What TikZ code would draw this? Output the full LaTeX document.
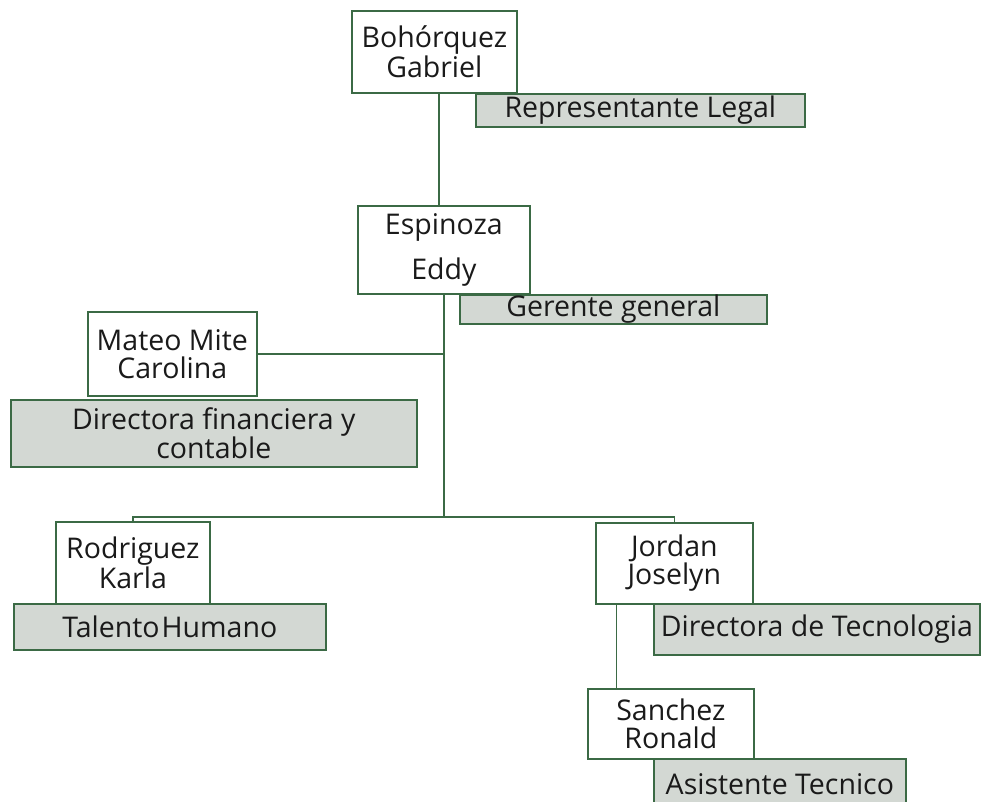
\documentclass[tikz,border=0pt]{standalone}
\usepackage{fontspec}
\setmainfont{Open Sans}
\definecolor{frame}{HTML}{3B6A45}
\definecolor{rolefill}{HTML}{D3D8D3}
\definecolor{ink}{HTML}{1A1A1A}
\begin{document}
\begin{tikzpicture}[x=1pt,y=-1pt,
  base/.style={draw=frame, line width=1.7pt, inner sep=0pt, anchor=north west,
    align=center, text=ink, font=\fontsize{28.5}{28}\selectfont},
  person/.style={base, fill=white},
  role/.style={base, fill=rolefill},
  link/.style={draw=frame, line width=1.7pt}]
\fill[white] (0,0) rectangle (981,801);
\useasboundingbox (0,0) rectangle (981,801);
\clip (0,0) rectangle (981,801);

% people
\node[person, minimum width=165, minimum height=82] (bg) at (351,10) {Bohórquez\\Gabriel};
\node[person, minimum width=172, minimum height=88] (ee) at (357,205) {Espinoza\\[15pt]Eddy};
\node[person, minimum width=169, minimum height=84] (mm) at (87,311) {Mateo Mite\\Carolina};
\node[person, minimum width=154, minimum height=82] (rk) at (55,521) {Rodriguez\\Karla};
\node[person, minimum width=157, minimum height=81] (jj) at (595,522) {Jordan\\Joselyn};
\node[person, minimum width=166, minimum height=70] (sr) at (587,688) {Sanchez\\Ronald};

% connectors
\draw[link] ([xshift=4.5pt]bg.south) -- ([xshift=4.5pt]bg.south |- ee.north);
\draw[link] (ee.south) -- ++(0,222) coordinate (bus);
\draw[link] (mm.east) -- (mm.east -| ee.south);
\draw[link] (rk.north) |- (bus) -| (jj.north);
\draw[link] ([xshift=-58pt]jj.south) -- ([xshift=-58pt]jj.south |- sr.north);

% roles
\node[role, minimum width=329, minimum height=33] (rl) at (475,93) {Representante Legal};
\node[role, minimum width=307, minimum height=29] (gg) at (459,294) {Gerente general};
\node[role, minimum width=406, minimum height=67] (df) at (10,399) {Directora financiera y\\contable};
\node[role, minimum width=312, minimum height=46] (th) at (13,603) {Talento\hspace{2pt}Humano};
\node[role, minimum width=326, minimum height=51] (dt) at (653,603) {Directora de Tecnologia};
\node[role, minimum width=252, minimum height=50] (at) at (653,758) {Asistente Tecnico};
\end{tikzpicture}
\end{document}
